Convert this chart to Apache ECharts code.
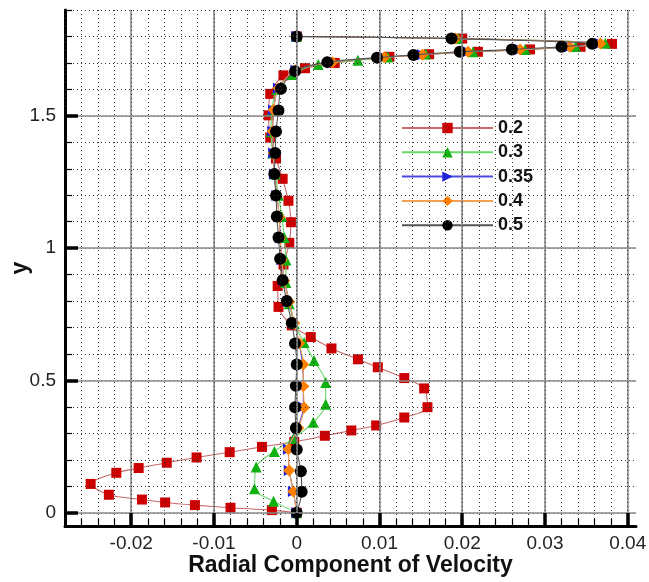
<!DOCTYPE html>
<html><head><meta charset="utf-8">
<script src="https://cdn.jsdelivr.net/npm/echarts@6/dist/echarts.min.js"></script>
<style>html,body{margin:0;padding:0;background:#fff}#c{width:649px;height:582px}</style>
</head><body><div id="c"></div>
<script>
// ---- data ----
const seriesNames = ['0.2', '0.3', '0.35', '0.4', '0.5'];
const xTickLabels = [-0.02, -0.01, 0, 0.01, 0.02, 0.03, 0.04];
const yTickLabels = [0, 0.5, 1, 1.5];

const x02 = [0, -0.0030, -0.0080, -0.0123, -0.0159, -0.0187, -0.0227, -0.0249, -0.0218, -0.0191, -0.0157, -0.0121, -0.0081, -0.0042, -0.0003, 0.0034, 0.0066, 0.0096, 0.0130, 0.0158, 0.0154, 0.0130, 0.0098, 0.0074, 0.0042, 0.0017, -0.0006, -0.0022, -0.0023, -0.0016, -0.0009, -0.0007, -0.0010, -0.0017, -0.0025, -0.0032, -0.0034, -0.0032, -0.0016, 0.0010, 0.0046, 0.0112, 0.0160, 0.0219, 0.0282, 0.0343, 0.0381, 0.0200, 0];
const y02 = [0, 0.010, 0.019, 0.029, 0.039, 0.050, 0.068, 0.109, 0.151, 0.169, 0.189, 0.209, 0.229, 0.249, 0.268, 0.291, 0.311, 0.330, 0.360, 0.399, 0.470, 0.509, 0.550, 0.580, 0.621, 0.664, 0.708, 0.778, 0.857, 0.938, 1.020, 1.098, 1.179, 1.262, 1.339, 1.418, 1.502, 1.583, 1.653, 1.680, 1.700, 1.723, 1.733, 1.742, 1.751, 1.761, 1.772, 1.792, 1.800];

const x03 = [0, -0.0028, -0.0051, -0.0049, -0.0027, -0.0004, 0.0020, 0.0035, 0.0035, 0.0021, 0.0009, -0.0003, -0.0009, -0.0013, -0.0013, -0.0015, -0.0018, -0.0022, -0.0026, -0.0029, -0.0031, -0.0030, -0.0024, -0.0006, 0.0026, 0.0074, 0.0110, 0.0156, 0.0213, 0.0276, 0.0337, 0.0373, 0.0195, 0];
const y03 = [0, 0.044, 0.091, 0.173, 0.232, 0.281, 0.342, 0.410, 0.492, 0.575, 0.643, 0.715, 0.790, 0.870, 0.955, 1.040, 1.120, 1.200, 1.280, 1.360, 1.440, 1.520, 1.600, 1.656, 1.694, 1.710, 1.722, 1.734, 1.742, 1.751, 1.762, 1.774, 1.792, 1.800];

const x035 = [0, -0.0004, -0.0009, -0.0010, 0.0001, 0.0008, 0.0008, 0.0007, 0.0003, -0.0003, -0.0009, -0.0015, -0.0018, -0.0020, -0.0021, -0.0024, -0.0027, -0.0028, -0.0029, -0.0028, -0.0022, -0.0001, 0.0043, 0.0106, 0.0152, 0.0207, 0.0270, 0.0330, 0.0367, 0.0192, 0];
const y035 = [0, 0.080, 0.160, 0.240, 0.320, 0.400, 0.480, 0.560, 0.640, 0.717, 0.797, 0.877, 0.956, 1.038, 1.118, 1.199, 1.280, 1.360, 1.442, 1.522, 1.604, 1.672, 1.703, 1.721, 1.731, 1.742, 1.751, 1.761, 1.773, 1.792, 1.800];

const x04 = [0, -0.0004, -0.0009, -0.0010, 0.0002, 0.0009, 0.0008, 0.0008, 0.0003, -0.0003, -0.0009, -0.0015, -0.0018, -0.0020, -0.0021, -0.0024, -0.0027, -0.0028, -0.0029, -0.0028, -0.0022, -0.0001, 0.0043, 0.0106, 0.0152, 0.0207, 0.0270, 0.0330, 0.0367, 0.0192, 0];
const y04 = [0, 0.080, 0.160, 0.240, 0.320, 0.398, 0.478, 0.560, 0.641, 0.717, 0.797, 0.877, 0.956, 1.038, 1.118, 1.199, 1.280, 1.360, 1.442, 1.522, 1.604, 1.672, 1.703, 1.721, 1.731, 1.742, 1.751, 1.761, 1.773, 1.792, 1.800];

const x05 = [0, 0.0006, 0.0005, 0.0000, -0.0001, -0.0002, -0.0001, 0.0000, -0.0002, -0.0006, -0.0012, -0.0017, -0.0020, -0.0022, -0.0024, -0.0025, -0.0027, -0.0026, -0.0025, -0.0022, -0.0019, -0.0002, 0.0037, 0.0097, 0.0141, 0.0197, 0.0260, 0.0320, 0.0357, 0.0187, 0];
const y05 = [0, 0.079, 0.157, 0.239, 0.320, 0.399, 0.480, 0.560, 0.640, 0.717, 0.800, 0.879, 0.960, 1.040, 1.120, 1.199, 1.280, 1.360, 1.441, 1.520, 1.602, 1.669, 1.703, 1.720, 1.730, 1.742, 1.751, 1.761, 1.772, 1.792, 1.800];

// ---- build ----
const pairs = (xs, ys) => xs.map((v, i) => [v, ys[i]]);
const X_MIN = -0.028, X_MAX = 0.041, Y_MIN = -0.05, Y_MAX = 1.9;
const G = {left: 65, top: 10, width: 571, height: 516};
const kx = G.width / (X_MAX - X_MIN), ky = G.height / (Y_MAX - Y_MIN);
const px = v => G.left + (v - X_MIN) * kx;
const py = v => G.top + (Y_MAX - v) * ky;

const FONT = 'Liberation Sans, Arial, sans-serif';
const dotted = {color: '#333', width: 1, type: [1, 3]};
const solid = {color: '#8a8a8a', width: 1.6};
const NB = {outerBoundsMode: 'none', containLabel: false};
const noLine = {show: false, onZero: false};
const thickLine = {show: true, onZero: false, lineStyle: {color: '#000', width: 3}};

const chart = echarts.init(document.getElementById('c'), null, {renderer: 'canvas'});

function mk(name, xs, ys, symbol, size, mcolor, lcolor, z, rot) {
  return {
    name, type: 'line', xAxisIndex: 0, yAxisIndex: 0,
    data: pairs(xs, ys), symbol, symbolSize: size, symbolRotate: rot || 0, showSymbol: true,
    smooth: 0.3, z,
    itemStyle: {color: mcolor},
    lineStyle: {color: lcolor, width: 1.1},
    emphasis: {disabled: true}, animation: false
  };
}

chart.setOption({
  animation: false,
  backgroundColor: '#fff',
  grid: [
    Object.assign({left: G.left, top: G.top, width: G.width, height: G.height}, NB),
    Object.assign({left: G.left, top: py(1.9), width: G.width, height: py(0) - py(1.9)}, NB),
    Object.assign({left: px(-0.02), top: G.top, width: px(0.04) - px(-0.02), height: G.height}, NB),
    Object.assign({left: G.left, top: py(1.5), width: G.width, height: py(0) - py(1.5)}, NB),
    Object.assign({left: G.left, top: G.top, width: px(0.04) - G.left, height: G.height}, NB)
  ],
  xAxis: [
    {gridIndex: 0, type: 'value', min: X_MIN, max: X_MAX, interval: 0.001, z: 10,
     axisLine: thickLine,
     axisTick: {show: false}, axisLabel: {show: false}, splitLine: {show: false},
     name: 'Radial Component of Velocity', nameLocation: 'middle', nameGap: 28,
     nameTextStyle: {fontFamily: FONT, fontWeight: 'bold', fontSize: 23, color: '#111'}},
    {gridIndex: 1, type: 'value', min: X_MIN, max: X_MAX, show: false, axisLine: noLine},
    {gridIndex: 2, type: 'value', min: -0.02, max: 0.04, interval: 0.01, z: 11,
     axisLine: thickLine,
     axisTick: {show: true, inside: true, length: 13, lineStyle: {color: '#000', width: 3.5}},
     axisLabel: {show: true, margin: 8, fontFamily: FONT, fontSize: 19, color: '#222',
       formatter: v => xTickLabels.find(t => Math.abs(t - v) < 1e-9) !== undefined ? String(+v.toFixed(2)) : ''},
     splitLine: {show: true, lineStyle: solid}},
    {gridIndex: 3, type: 'value', min: X_MIN, max: X_MAX, show: false, axisLine: noLine},
    {gridIndex: 4, type: 'value', min: X_MIN, max: 0.04, interval: 0.002, z: 11,
     axisLine: noLine,
     axisTick: {show: true, inside: true, length: 7, lineStyle: {color: '#000', width: 1.2}},
     axisLabel: {show: false}, splitLine: {show: true, lineStyle: dotted}}
  ],
  yAxis: [
    {gridIndex: 0, type: 'value', min: Y_MIN, max: Y_MAX, interval: 0.05, z: 10,
     axisLine: thickLine,
     axisTick: {show: false}, axisLabel: {show: false}, splitLine: {show: false},
     name: 'y', nameLocation: 'middle', nameGap: 33, nameRotate: 90,
     nameTextStyle: {fontFamily: FONT, fontWeight: 'bold', fontSize: 23, color: '#111'}},
    {gridIndex: 1, type: 'value', min: 0, max: 1.9, interval: 0.1, z: 11,
     axisLine: noLine,
     axisTick: {show: true, inside: true, length: 7, lineStyle: {color: '#000', width: 1.2}},
     axisLabel: {show: false}, splitLine: {show: true, lineStyle: dotted}},
    {gridIndex: 2, type: 'value', min: Y_MIN, max: Y_MAX, show: false, axisLine: noLine},
    {gridIndex: 3, type: 'value', min: 0, max: 1.5, interval: 0.5, z: 11,
     axisLine: thickLine,
     axisTick: {show: true, inside: true, length: 13, lineStyle: {color: '#000', width: 3.5}},
     axisLabel: {show: true, margin: 9, fontFamily: FONT, fontSize: 19, color: '#222',
       formatter: v => yTickLabels.find(t => Math.abs(t - v) < 1e-9) !== undefined ? String(+v.toFixed(1)) : ''},
     splitLine: {show: true, lineStyle: solid}},
    {gridIndex: 4, type: 'value', min: Y_MIN, max: Y_MAX, show: false, axisLine: noLine}
  ],
  legend: {
    orient: 'vertical', left: 401, top: 119, itemWidth: 91, itemHeight: 13, itemGap: 6.3,
    padding: 0, selectedMode: false,
    textStyle: {fontFamily: FONT, fontWeight: 'bold', fontSize: 18, color: '#111'},
    data: seriesNames
  },
  series: [
    mk(seriesNames[0], x02, y02, 'rect', 10, '#cc0000', '#c86a6a', 2),
    mk(seriesNames[1], x03, y03, 'triangle', 11, '#10b010', '#6ad66a', 3),
    mk(seriesNames[2], x035, y035, 'triangle', 11, '#2020e0', '#4a4ae0', 4, -90),
    mk(seriesNames[3], x04, y04, 'diamond', 12, '#ff8000', '#f0a050', 5),
    mk(seriesNames[4], x05, y05, 'circle', 12, '#000000', '#555555', 6)
  ]
});
</script>
</body></html>
